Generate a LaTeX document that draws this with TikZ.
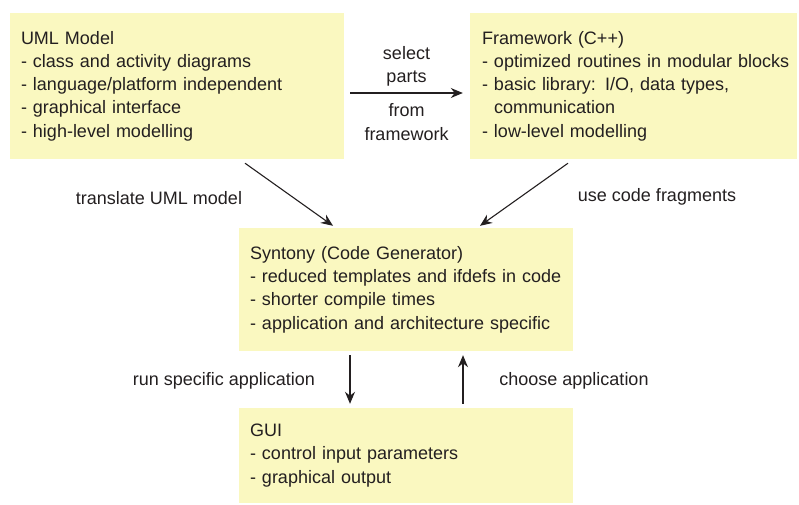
\documentclass[tikz,border=0pt]{standalone}
\usepackage{fontspec}
\setmainfont{Liberation Sans}
\usetikzlibrary{arrows.meta}
\definecolor{boxfill}{RGB}{250,248,192}
\definecolor{ink}{RGB}{35,31,32}

\begin{document}
\begin{tikzpicture}[x=1pt,y=-1pt,
  font=\fontsize{18}{23.3}\selectfont, text=ink,
  block/.style={fill=boxfill, align=left, inner xsep=11pt, inner ysep=0pt},
  arrow/.style={-{Stealth[length=12pt,width=10pt]}, line width=1.1pt, draw=ink}]

\useasboundingbox (0,0) rectangle (799,504);

\node[block, minimum width=334pt, minimum height=146pt, text width=312pt] (uml) at (177,86)
  {UML Model\\- class and activity diagrams\\- language/platform independent\\- graphical interface\\- high-level modelling};
\node[block, minimum width=327pt, minimum height=146pt, text width=303pt, inner xsep=12pt] (framework) at (633.5,86)
  {Framework (C++)\\\mbox{- optimized routines in modular blocks}\\- basic library: I/O, data types,\\\phantom{- }communication\\- low-level modelling};
\node[block, minimum width=334pt, minimum height=123pt, text width=312pt] (syntony) at (406,289.5)
  {Syntony (Code Generator)\\\mbox{- reduced templates and ifdefs in code}\\- shorter compile times\\- application and architecture specific};
\node[block, minimum width=334pt, minimum height=95pt, text width=312pt] (gui) at (406,455.5)
  {GUI\\- control input parameters\\- graphical output};

\draw[arrow] ([shift={(6pt,-7pt)}]uml.east) -- ([shift={(-7pt,-7pt)}]framework.west)
  node[midway, above=3pt, align=center] {select\\parts}
  node[midway, below=7pt, align=center] {from\\framework};

\draw[arrow] ([shift={(68pt,-4pt)}]uml.south) -- ([shift={(-73pt,2pt)}]syntony.north);
\draw[arrow] ([shift={(-65.5pt,-4pt)}]framework.south) -- ([shift={(74pt,2pt)}]syntony.north);

\draw[arrow] ([shift={(-56pt,-4pt)}]syntony.south) -- ([shift={(-56pt,4pt)}]gui.north);
\draw[arrow] ([shift={(57pt,4pt)}]gui.north) -- ([shift={(57pt,-4pt)}]syntony.south);

\node (translate) at (159,198) {translate UML model};
\node (fragments) at (657,197) {use code fragments};
\node (run) at (224,381) {run specific application};
\node (choose) at (574,381) {choose application};

\end{tikzpicture}
\end{document}
